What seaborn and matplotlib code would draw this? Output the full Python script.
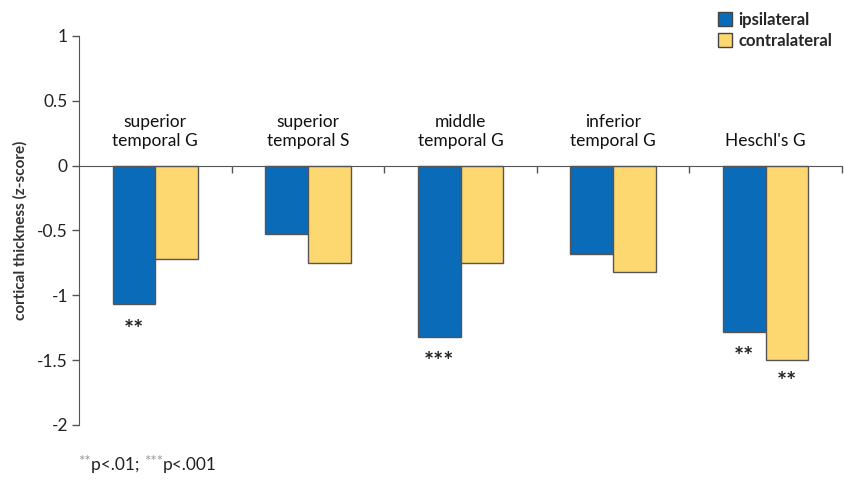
import matplotlib
matplotlib.use("Agg")
import matplotlib.pyplot as plt
import seaborn as sns
import pandas as pd
from matplotlib.patches import Patch
from matplotlib.transforms import offset_copy

regions = ["superior\ntemporal G", "superior\ntemporal S", "middle\ntemporal G",
           "inferior\ntemporal G", "Heschl's G"]
sides = ["ipsilateral", "contralateral"]
ipsilateral = [-1.07, -0.53, -1.32, -0.68, -1.28]
contralateral = [-0.72, -0.75, -0.75, -0.82, -1.50]
ipsi_stars = ["**", "", "***", "", "**"]
contra_stars = ["", "", "", "", "**"]
yticks = [1, 0.5, 0, -0.5, -1, -1.5, -2]
ytick_labels = ["1", "0.5", "0", "-0.5", "-1", "-1.5", "-2"]
footnote = [("**", True), ("p<.01; ", False), ("***", True), ("p<.001", False)]
colors = ["#0a6cb8", "#fdd76f"]

sns.set_style("white")
plt.rcParams["font.family"] = ["Lato", "DejaVu Sans"]

df = pd.DataFrame({
    "region": regions * 2,
    "side": [sides[0]] * len(regions) + [sides[1]] * len(regions),
    "value": ipsilateral + contralateral,
})

fig = plt.figure(figsize=(8.44, 4.92), dpi=100)
ax = fig.add_axes([79 / 844, 1 - 425 / 492, (842 - 79) / 844, (425 - 36) / 492])

sns.barplot(data=df, x="region", y="value", hue="side", hue_order=sides,
            palette=colors, saturation=1, width=0.56, gap=0, edgecolor="#555555",
            linewidth=1.0, ax=ax, legend=False, errorbar=None)

ax.set_xlim(-0.5, len(regions) - 0.5)
ax.set_ylim(-2, 1)
ax.set_yticks(yticks)
ax.set_yticklabels(ytick_labels, fontsize=12.5, color="#222222")
ax.set_xticks([i + 0.5 for i in range(len(regions))])
ax.set_xticklabels([])
ax.set_xlabel("")
ax.set_ylabel("cortical thickness (z-score)", fontsize=11, fontweight="bold",
              color="#333333")
ax.yaxis.set_label_coords(-0.068, 0.5)

for s in ["top", "right"]:
    ax.spines[s].set_visible(False)
ax.spines["bottom"].set_position(("data", 0))
ax.spines["bottom"].set_color("#555555")
ax.spines["left"].set_color("#555555")
ax.tick_params(axis="y", direction="out", length=5, width=1, color="#555555", left=True, pad=3)
ax.tick_params(axis="x", direction="out", length=5, width=1, color="#555555", bottom=True)

off = 0.14
for i, name in enumerate(regions):
    ax.text(i, 0.13, name, ha="center", va="bottom", fontsize=12.5,
            linespacing=1.2, color="#111111")
    if ipsi_stars[i]:
        ax.text(i - off, ipsilateral[i] - 0.2, ipsi_stars[i], ha="center",
                va="center", fontsize=17, fontweight="bold", color="#222222")
    if contra_stars[i]:
        ax.text(i + off, contralateral[i] - 0.17, contra_stars[i], ha="center",
                va="center", fontsize=17, fontweight="bold", color="#222222")

handles = [Patch(facecolor=c, edgecolor="#444444", label=l) for c, l in zip(colors, sides)]
fig.legend(handles=handles, loc="upper right", bbox_to_anchor=(1.0, 1.0),
           frameon=False, handlelength=0.8, handleheight=0.9,
           handletextpad=0.4, labelspacing=0.3, borderaxespad=0.3,
           prop={"weight": "bold", "size": 12})

fig.canvas.draw()
renderer = fig.canvas.get_renderer()
x0, y0 = 78 / 844, 1 - 470 / 492
trans = fig.transFigure
dx = 0
for txt, sup in footnote:
    t = fig.text(x0, y0, txt, transform=offset_copy(trans, fig=fig, x=dx, y=4 if sup else 0, units="dots"),
                 fontsize=11 if sup else 12.5, ha="left", va="baseline",
                 color="#9a9a9a" if sup else "#222222")
    dx += t.get_window_extent(renderer).width

fig.savefig("out.png", dpi=100)
